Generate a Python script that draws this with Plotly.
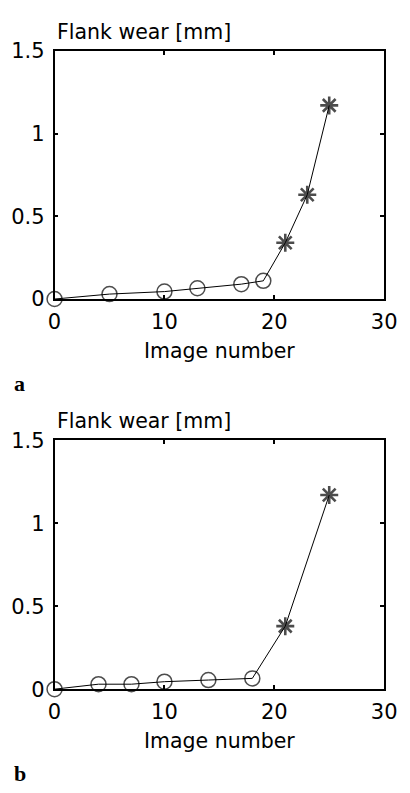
import plotly.graph_objects as go

# ---- data ----
a_image = [0, 5, 10, 13, 17, 19, 21, 23, 25]
a_wear = [0.0, 0.03, 0.045, 0.065, 0.09, 0.11, 0.34, 0.63, 1.17]
a_phase = ["o", "o", "o", "o", "o", "o", "*", "*", "*"]

b_image = [0, 4, 7, 10, 14, 18, 21, 25]
b_wear = [0.0, 0.03, 0.03, 0.045, 0.055, 0.065, 0.38, 1.17]
b_phase = ["o", "o", "o", "o", "o", "o", "*", "*"]

x_ticks = [0, 10, 20, 30]
y_ticks = [0, 0.5, 1, 1.5]
y_ticktext = ["0", "0.5", "1", "1.5"]
y_title = "Flank wear [mm]"
x_title = "Image number"
panel_labels = ["a", "b"]

W, H = 410, 793
FONT = "DejaVu Sans"

sym_map = {"o": "circle-open", "*": "asterisk-open"}
size_map = {"o": 15, "*": 15}
width_map = {"o": 1.5, "*": 2.6}

fig = go.Figure()


def add_panel(xs, ys, phases, xa, ya):
    fig.add_trace(go.Scatter(
        x=xs, y=ys, mode="lines+markers",
        xaxis=xa, yaxis=ya,
        line=dict(color="black", width=1),
        marker=dict(symbol=[sym_map[p] for p in phases],
                    size=[size_map[p] for p in phases],
                    color="black",
                    line=dict(color="black", width=[width_map[p] for p in phases])),
        cliponaxis=False, showlegend=False,
    ))


add_panel(a_image, a_wear, a_phase, "x", "y")
add_panel(b_image, b_wear, b_phase, "x2", "y2")

# panel pixel geometry (top, bottom)
panels = [(40, 296), (441.7, 698.3)]
x_left, x_right = 50, 396.5

axis_common = dict(
    showline=True, linecolor="black", linewidth=1.5, mirror="ticks",
    ticks="inside", ticklen=4, tickwidth=1.5, tickcolor="black",
    showgrid=False, zeroline=False,
    tickfont=dict(family=FONT, size=21, color="black"),
)

layout_axes = {}
for i, (top, bot) in enumerate(panels):
    sx = "" if i == 0 else str(i + 1)
    ydom = [1 - bot / H, 1 - top / H]
    layout_axes["xaxis" + sx] = dict(
        axis_common, domain=[x_left / W, x_right / W], range=[0, 30],
        tickvals=x_ticks, anchor="y" + sx, ticklabelstandoff=3,
    )
    layout_axes["yaxis" + sx] = dict(
        axis_common, domain=ydom, range=[0, 1.5],
        tickvals=y_ticks, ticktext=y_ticktext, anchor="x" + sx, ticklabelstandoff=4,
    )

fig.update_layout(
    width=W, height=H, margin=dict(l=0, r=0, t=0, b=0),
    paper_bgcolor="white", plot_bgcolor="white",
    **layout_axes,
)

annotations = []
for i, (top, bot) in enumerate(panels):
    annotations.append(dict(
        x=50 / W, y=1 - (top - 5) / H, xref="paper", yref="paper",
        text=y_title, showarrow=False, xanchor="left", yanchor="bottom",
        font=dict(family=FONT, size=20.5, color="black"),
    ))
    annotations.append(dict(
        x=(x_left + x_right) / 2 / W, y=1 - (bot + 39) / H, xref="paper", yref="paper",
        text=x_title, showarrow=False, xanchor="center", yanchor="top",
        font=dict(family=FONT, size=20.5, color="black"),
    ))
    annotations.append(dict(
        x=5 / W, y=1 - (bot + 87) / H, xref="paper", yref="paper",
        text="<b>%s</b>" % panel_labels[i], showarrow=False, xanchor="left", yanchor="middle",
        font=dict(family="Liberation Serif", size=22, color="black"),
    ))
fig.update_layout(annotations=annotations)

fig.write_html("out.html")
